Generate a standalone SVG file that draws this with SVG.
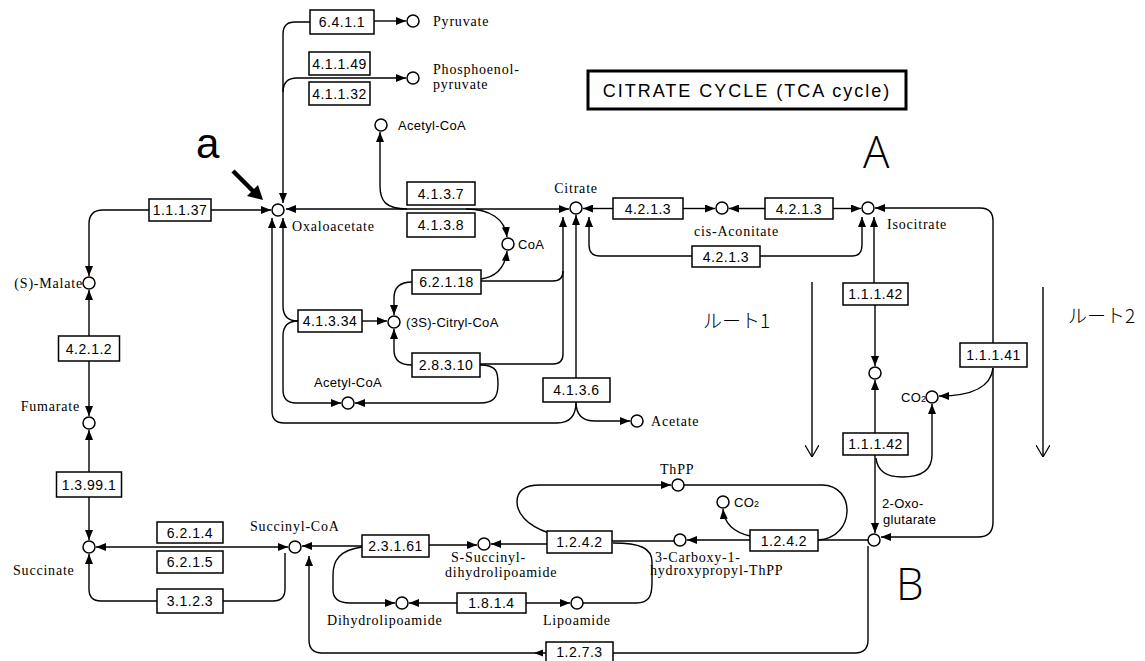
<svg xmlns="http://www.w3.org/2000/svg" width="1145" height="661" viewBox="0 0 1145 661">
<style>
.ln{fill:none;stroke:#000;stroke-width:1.4}
.ar{marker-end:url(#ah)}
.ec rect{fill:#fff;stroke:#000;stroke-width:1.5}
.ec text{font-family:"Liberation Sans",Arial,sans-serif;font-size:14px;text-anchor:middle;letter-spacing:0.5px}
.cp{fill:#fff;stroke:#000;stroke-width:1.5}
.lb{font-family:"Liberation Serif","Times New Roman",serif;font-size:14px;letter-spacing:0.8px}
.ls{font-family:"Liberation Sans",Arial,sans-serif;font-size:13px;letter-spacing:0.3px}
.big{font-family:"Open Sans","Liberation Sans",Arial,sans-serif;font-size:44px;font-weight:300}
.sma{font-family:"Liberation Sans",Arial,sans-serif;font-size:42px}
.jp{font-family:"Noto Sans CJK JP","Noto Sans",sans-serif;font-size:19px;font-weight:300}
</style>
<defs>
<marker id="ah" viewBox="0 0 10 8" refX="10" refY="4" markerWidth="10" markerHeight="8" markerUnits="userSpaceOnUse" orient="auto-start-reverse"><path d="M0,0 L10,4 L0,8 z" fill="#000"/></marker>
<marker id="ov" viewBox="0 0 12 14" refX="12" refY="7" markerWidth="12" markerHeight="14" markerUnits="userSpaceOnUse" orient="auto"><path d="M0,0 L12,7 L0,14" fill="none" stroke="#000" stroke-width="1.2"/></marker>
</defs>
<rect width="1145" height="661" fill="#fff"/>

<g id="connectors">
<path class="ln ar" d="M310 22 L295 22 Q283 22 283 34 L283 203"/>
<path class="ln ar" d="M374 21 L406 21"/>
<path class="ln ar" d="M283 92 Q283 78 297 78 L406 78"/>
<path class="ln ar" d="M407 209 C386 209 380 201 380 186 L380 132"/>
<path class="ln ar" d="M286 209 L569 209" marker-start="url(#ah)"/>
<path class="ln ar" d="M466 209 C490 209 505 219 507 237"/>
<path class="ln ar" d="M481 279 C495 277 505 268 507 251"/>
<path class="ln" d="M481 281 L553 281 Q563 281 563 271"/>
<path class="ln ar" d="M480 364 L553 364 Q563 364 563 354 L563 217"/>
<path class="ln ar" d="M576 378 L576 215"/>
<path class="ln ar" d="M692 256 L600 256 Q589 256 589 245 L589 217"/>
<path class="ln ar" d="M760 256 L852 256 Q862 256 862 245 L862 217"/>
<path class="ln ar" d="M613 208.5 L583 208.5"/>
<path class="ln ar" d="M683 208.5 L715 208.5"/>
<path class="ln ar" d="M765 208.5 L729 208.5"/>
<path class="ln ar" d="M833 208.5 L861 208.5"/>
<path class="ln ar" d="M993 343 L993 221 Q993 208 980 208 L875 208"/>
<path class="ln ar" d="M874 283 L874 217"/>
<path class="ln ar" d="M875 305 L875 366"/>
<path class="ln ar" d="M875 433 L875 380"/>
<path class="ln ar" d="M875 455 L875 533"/>
<path class="ln ar" d="M876 458 Q878 477 902 477 Q932 477 932 455 L932 404"/>
<path class="ln ar" d="M993 368 Q990 396 939 396"/>
<path class="ln ar" d="M993 368 L993 522 Q993 537 978 537 L881 537"/>
<path class="ln" d="M868 540 L818 540"/>
<path class="ln ar" d="M750 540 L687 540"/>
<path class="ln" d="M674 541 L612 541"/>
<path class="ln ar" d="M750 536 C733 532 724 522 723 509"/>
<path class="ln ar" d="M549 533 C525 525 517 512 517 502 C517 489 527 485 540 485 L671 485"/>
<path class="ln" d="M684 485 L822 485 C856 485 856 538 818 540"/>
<path class="ln" d="M583 603 L636 603 C650 603 652 595 652 582 L652 562 C652 548 640 543 613 543"/>
<path class="ln ar" d="M547 544 L491 544"/>
<path class="ln ar" d="M429 545 L477 545"/>
<path class="ln ar" d="M362 546 L302 546"/>
<path class="ln ar" d="M362 547 C340 550 333 560 333 575 L333 590 C333 600 340 603 350 603 L395 603"/>
<path class="ln ar" d="M457 603 L409 603"/>
<path class="ln ar" d="M526 603 L570 603"/>
<path class="ln" d="M613 653 L855 653 Q868 653 868 640 L868 546"/>
<path class="ln ar" d="M546 653 L322 653 Q309 653 309 640 L309 556"/>
<path d="M534 653 L543 649.5 L543 656.5 z" fill="#000"/>
<path class="ln ar" d="M96 547 L288 547" marker-start="url(#ah)"/>
<path class="ln ar" d="M157 601 L101 601 Q89 601 89 589 L89 554"/>
<path class="ln" d="M223 601 L273 601 Q285 601 285 589 L285 553"/>
<path class="ln ar" d="M89 497 L89 540"/>
<path class="ln ar" d="M89 472 L89 430"/>
<path class="ln ar" d="M89 361 L89 416"/>
<path class="ln ar" d="M89 336 L89 290"/>
<path class="ln ar" d="M149 210 L103 210 Q89 210 89 224 L89 276"/>
<path class="ln ar" d="M211 210 L271 210"/>
<path class="ln ar" d="M298 321 C288 321 283 316 283 306 L283 218"/>
<path class="ln ar" d="M298 321 C288 321 283 326 283 336 L283 390 Q283 403 296 403 L341 403"/>
<path class="ln ar" d="M480 365 C497 365 498 372 498 384 C498 398 493 403 480 403 L355 403"/>
<path class="ln ar" d="M576 402 C576 415 570 423 557 423 L284 423 Q272 423 272 411 L272 218"/>
<path class="ln ar" d="M576 402 C576 415 582 421 595 421 L630 421"/>
<path class="ln ar" d="M362 321 L387 321"/>
<path class="ln ar" d="M412 282 C400 282 394 288 394 298 L394 315"/>
<path class="ln ar" d="M412 365 C400 365 394 360 394 350 L394 329"/>
<path class="ln" d="M812 282 L812 457" marker-end="url(#ov)"/>
<path class="ln" d="M1043 287 L1043 457" marker-end="url(#ov)"/>
<path d="M233 171 L254 192" stroke="#000" stroke-width="4.5" fill="none"/>
<path d="M263 200 L247 196 L258 185 z" fill="#000"/>
</g>

<g id="compounds">
<circle class="cp" cx="413" cy="21" r="6"/>
<circle class="cp" cx="413" cy="78" r="6"/>
<circle class="cp" cx="381" cy="125" r="6"/>
<circle class="cp" cx="278" cy="210" r="6"/>
<circle class="cp" cx="576" cy="208" r="6"/>
<circle class="cp" cx="722" cy="208" r="6"/>
<circle class="cp" cx="868" cy="208" r="6"/>
<circle class="cp" cx="508" cy="244" r="6"/>
<circle class="cp" cx="394" cy="322" r="6"/>
<circle class="cp" cx="348" cy="403" r="6"/>
<circle class="cp" cx="637" cy="421" r="6"/>
<circle class="cp" cx="89" cy="283" r="6"/>
<circle class="cp" cx="89" cy="423" r="6"/>
<circle class="cp" cx="89" cy="547" r="6"/>
<circle class="cp" cx="295" cy="547" r="6"/>
<circle class="cp" cx="875" cy="373" r="6"/>
<circle class="cp" cx="932" cy="397" r="6"/>
<circle class="cp" cx="874" cy="540" r="6"/>
<circle class="cp" cx="680" cy="540" r="6"/>
<circle class="cp" cx="723" cy="502" r="6"/>
<circle class="cp" cx="678" cy="485" r="6"/>
<circle class="cp" cx="484" cy="544" r="6"/>
<circle class="cp" cx="402" cy="603" r="6"/>
<circle class="cp" cx="577" cy="603" r="6"/>
</g>

<g id="enzymes">
<g class="ec" id="e6411"><rect x="310" y="10" width="64" height="24"/><text x="342" y="27">6.4.1.1</text></g>
<g class="ec" id="e41149"><rect x="309" y="52" width="61" height="23"/><text x="339.5" y="68.5">4.1.1.49</text></g>
<g class="ec" id="e41132"><rect x="309" y="82" width="61" height="23"/><text x="339.5" y="98.5">4.1.1.32</text></g>
<g class="ec" id="e11137"><rect x="149" y="199" width="62" height="22"/><text x="180" y="215">1.1.1.37</text></g>
<g class="ec" id="e4137"><rect x="407" y="182" width="68" height="23"/><text x="441" y="198.5">4.1.3.7</text></g>
<g class="ec" id="e4138"><rect x="407" y="213" width="68" height="24"/><text x="441" y="230">4.1.3.8</text></g>
<g class="ec" id="e4213a"><rect x="613" y="198" width="70" height="21"/><text x="648" y="213.5">4.2.1.3</text></g>
<g class="ec" id="e4213b"><rect x="765" y="198" width="68" height="21"/><text x="799" y="213.5">4.2.1.3</text></g>
<g class="ec" id="e4213c"><rect x="692" y="246" width="68" height="21"/><text x="726" y="261.5">4.2.1.3</text></g>
<g class="ec" id="e62118"><rect x="412" y="270" width="69" height="24"/><text x="446.5" y="287">6.2.1.18</text></g>
<g class="ec" id="e41334"><rect x="298" y="310" width="64" height="22"/><text x="330" y="326">4.1.3.34</text></g>
<g class="ec" id="e28310"><rect x="412" y="353" width="68" height="24"/><text x="446" y="370">2.8.3.10</text></g>
<g class="ec" id="e4136"><rect x="543" y="378" width="67" height="24"/><text x="576.5" y="395">4.1.3.6</text></g>
<g class="ec" id="e11142a"><rect x="843" y="283" width="65" height="22"/><text x="875.5" y="299">1.1.1.42</text></g>
<g class="ec" id="e11141"><rect x="960" y="343" width="67" height="24"/><text x="993.5" y="360">1.1.1.41</text></g>
<g class="ec" id="e11142b"><rect x="843" y="433" width="65" height="22"/><text x="875.5" y="449">1.1.1.42</text></g>
<g class="ec" id="e4212"><rect x="58.5" y="336" width="61" height="25"/><text x="89" y="353.5">4.2.1.2</text></g>
<g class="ec" id="e13991"><rect x="56.5" y="472" width="65" height="25"/><text x="89" y="489.5">1.3.99.1</text></g>
<g class="ec" id="e6214"><rect x="157" y="522" width="66" height="21"/><text x="190" y="537.5">6.2.1.4</text></g>
<g class="ec" id="e6215"><rect x="157" y="551" width="66" height="22"/><text x="190" y="567">6.2.1.5</text></g>
<g class="ec" id="e3123"><rect x="157" y="589" width="66" height="24"/><text x="190" y="606">3.1.2.3</text></g>
<g class="ec" id="e23161"><rect x="362" y="535" width="67" height="22"/><text x="395.5" y="551">2.3.1.61</text></g>
<g class="ec" id="e1242a"><rect x="547" y="531" width="65" height="22"/><text x="579.5" y="547">1.2.4.2</text></g>
<g class="ec" id="e1242b"><rect x="750" y="530" width="68" height="21"/><text x="784" y="545.5">1.2.4.2</text></g>
<g class="ec" id="e1814"><rect x="457" y="593" width="69" height="20"/><text x="491.5" y="608">1.8.1.4</text></g>
<g class="ec" id="e1273"><rect x="546" y="642" width="67" height="20"/><text x="579.5" y="657">1.2.7.3</text></g>
</g>

<g id="labels">
<text class="lb" x="433" y="26">Pyruvate</text>
<text class="lb" x="433" y="74">Phosphoenol-</text>
<text class="lb" x="433" y="89">pyruvate</text>
<text class="ls" x="398" y="130">Acetyl-CoA</text>
<text class="lb" x="292" y="231">Oxaloacetate</text>
<text class="lb" x="576" y="193" text-anchor="middle">Citrate</text>
<text class="lb" x="694" y="236">cis-Aconitate</text>
<text class="lb" x="887" y="229">Isocitrate</text>
<text class="ls" x="518" y="249">CoA</text>
<text class="ls" x="406" y="327">(3S)-Citryl-CoA</text>
<text class="ls" x="348" y="387" text-anchor="middle">Acetyl-CoA</text>
<text class="lb" x="651" y="426">Acetate</text>
<text class="lb" x="83" y="288" text-anchor="end">(S)-Malate</text>
<text class="lb" x="80" y="411" text-anchor="end">Fumarate</text>
<text class="lb" x="13" y="575">Succinate</text>
<text class="lb" x="250" y="531">Succinyl-CoA</text>
<text class="lb" x="451" y="562">S-Succinyl-</text>
<text class="lb" x="445" y="577">dihydrolipoamide</text>
<text class="lb" x="327" y="625">Dihydrolipoamide</text>
<text class="lb" x="543" y="625">Lipoamide</text>
<text class="lb" x="660" y="474">ThPP</text>
<text class="ls" x="734" y="507">CO<tspan font-size="9">2</tspan></text>
<text class="lb" x="655" y="562">3-Carboxy-1-</text>
<text class="lb" x="650" y="575">hydroxypropyl-ThPP</text>
<text class="ls" x="882" y="508">2-Oxo-</text>
<text class="ls" x="883" y="524">glutarate</text>
<text class="ls" x="901" y="402">CO<tspan font-size="9">2</tspan></text>
<text class="big" x="863" y="168">A</text>
<text class="big" x="896" y="600">B</text>
<text class="sma" x="196" y="158">a</text>
<text class="jp" x="703" y="328">ルート1</text>
<text class="jp" x="1068" y="323">ルート2</text>
</g>

<g id="title">
<rect x="588" y="71" width="318" height="38" fill="#fff" stroke="#000" stroke-width="3"/>
<text x="747" y="97" text-anchor="middle" font-family="Liberation Sans, Arial, sans-serif" font-size="18" letter-spacing="2">CITRATE CYCLE (TCA cycle)</text>
</g>
</svg>
